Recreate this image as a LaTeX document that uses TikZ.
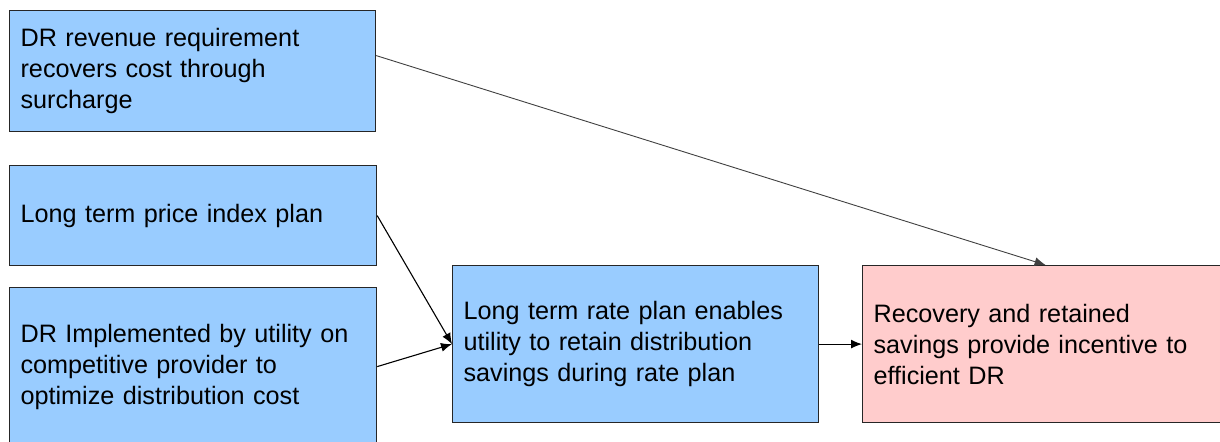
\documentclass[tikz,border=0pt]{standalone}
\usepackage{fontspec}
\setmainfont{Liberation Sans}
\usepackage{tikz}
\usepackage{xcolor}
\usetikzlibrary{positioning, arrows.meta}

\definecolor{boxblue}{HTML}{99CCFF}
\definecolor{boxpink}{HTML}{FFCCCC}

\begin{document}
\begin{tikzpicture}[x=0.5pt, y=-0.5pt,
    box/.style={rectangle, draw=black!85, line width=0.6pt, fill=boxblue, anchor=north west,
        align=left, inner xsep=5.5pt, font=\fontsize{12.6}{15.5}\selectfont},
    link/.style={-{Latex[length=5.5pt, width=4.5pt]}, line width=0.55pt}]
    \clip (0,0) rectangle (1220,442);

    \node[box, minimum width=183pt, minimum height=60.5pt, text width=172pt] (rev) at (9, 10) {DR revenue requirement\\recovers cost through\\surcharge};
    \node[box, minimum width=183.5pt, minimum height=50pt, text width=172.5pt] (price) at (9, 165) {Long term price index plan};
    \node[box, minimum width=183.5pt, minimum height=79pt, text width=172.5pt] (impl) at (9, 287) {DR Implemented by utility on\\competitive provider to\\optimize distribution cost};
    \node[box, minimum width=183pt, minimum height=78.5pt, text width=172pt] (rate) at (452, 265) {Long term rate plan enables\\utility to retain distribution\\savings during rate plan};
    \node[box, fill=boxpink, minimum width=183pt, minimum height=78.5pt, text width=172pt] (rec) at (862, 265) {Recovery and retained\\savings provide incentive to\\efficient DR};

    \draw[link, draw=black!75, line width=0.45pt] ([yshift=7.75pt]rev.east) -- (rec.north);
    \draw[link] (price.east) -- (rate.west);
    \draw[link] (impl.east) -- (rate.west);
    \draw[link] (rate.east) -- (rec.west);
\end{tikzpicture}
\end{document}
